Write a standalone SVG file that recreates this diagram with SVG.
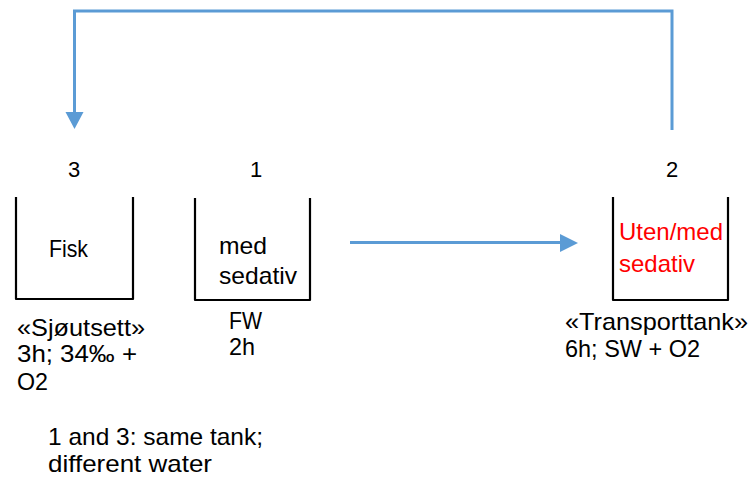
<svg xmlns="http://www.w3.org/2000/svg" width="749" height="486" viewBox="0 0 749 486">
<defs>
<style>
text{font-family:"Liberation Sans",Arial,sans-serif;font-size:24px;fill:#000}
.num{font-size:22px}
.red{fill:#ff0000}
.tank{fill:none;stroke:#000;stroke-width:2.2;stroke-linejoin:round}
.conn{fill:none;stroke:#5b9bd5;stroke-width:3}
.head{fill:#5b9bd5}
</style>
</defs>
<rect width="749" height="486" fill="#fff"/>
<g id="connectors">
<path class="conn" d="M672,130 V11 H74.5 V113"/>
<polygon class="head" points="65.5,112 83.5,112 74.5,129"/>
<path class="conn" d="M350,242.5 H561"/>
<polygon class="head" points="560,234 578,243 560,252"/>
</g>
<g id="tank3">
<path class="tank" d="M16,197 V299 H133 V197"/>
<text class="num" x="74" y="177" text-anchor="middle">3</text>
<text x="49" y="257" textLength="39" lengthAdjust="spacingAndGlyphs">Fisk</text>
<text x="17" y="336" textLength="128" lengthAdjust="spacingAndGlyphs">«Sjøutsett»</text>
<text x="17" y="362" textLength="120" lengthAdjust="spacingAndGlyphs">3h; 34‰ +</text>
<text x="17" y="390" textLength="31" lengthAdjust="spacingAndGlyphs">O2</text>
</g>
<g id="tank1">
<path class="tank" d="M195,198 V300 H310 V198"/>
<text class="num" x="256" y="177" text-anchor="middle">1</text>
<text x="219" y="254" textLength="48" lengthAdjust="spacingAndGlyphs">med</text>
<text x="219" y="284" textLength="78" lengthAdjust="spacingAndGlyphs">sedativ</text>
<text x="229" y="329" textLength="33" lengthAdjust="spacingAndGlyphs">FW</text>
<text x="229" y="355" textLength="26" lengthAdjust="spacingAndGlyphs">2h</text>
</g>
<g id="tank2">
<path class="tank" d="M613,197 V300 H728 V197"/>
<text class="num" x="672" y="177" text-anchor="middle">2</text>
<text class="red" x="619" y="240" textLength="104" lengthAdjust="spacingAndGlyphs">Uten/med</text>
<text class="red" x="619" y="272" textLength="76" lengthAdjust="spacingAndGlyphs">sedativ</text>
<text x="565" y="330" textLength="183" lengthAdjust="spacingAndGlyphs">«Transporttank»</text>
<text x="565" y="357" textLength="135" lengthAdjust="spacingAndGlyphs">6h; SW + O2</text>
</g>
<g id="note">
<text x="48" y="445" textLength="215" lengthAdjust="spacingAndGlyphs">1 and 3: same tank;</text>
<text x="48" y="472" textLength="164" lengthAdjust="spacingAndGlyphs">different water</text>
</g>
</svg>
